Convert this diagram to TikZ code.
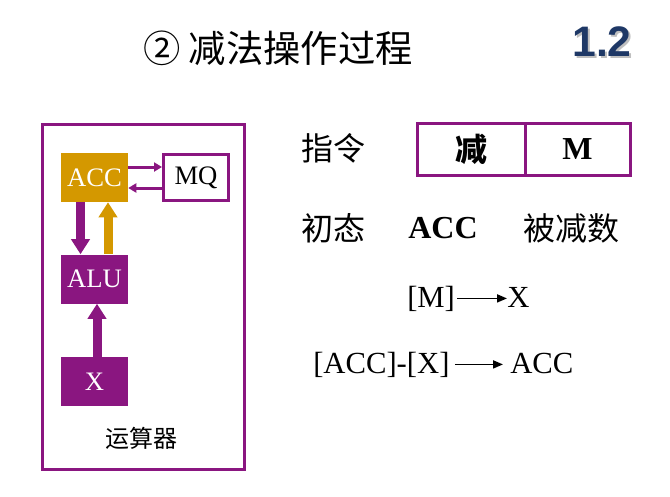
\documentclass[tikz,border=0pt]{standalone}
\usepackage{fontspec}
\setmainfont{Liberation Serif}
\newfontfamily\cjk{Noto Sans CJK SC}
\newfontfamily\numfont{Liberation Sans}
\usetikzlibrary{arrows.meta}
\newcommand{\pxu}{0.75pt}
\definecolor{regpurple}{RGB}{138,22,128}
\definecolor{accgold}{RGB}{212,152,0}
\definecolor{slideblue}{RGB}{30,56,102}
\tikzset{
  regbox/.style={rectangle, inner sep=0pt, minimum width=67*\pxu, minimum height=49*\pxu,
    font=\fontsize{20}{24}\selectfont, text=white},
  outlinebox/.style={rectangle, draw=regpurple, line width=3*\pxu, inner sep=0pt,
    minimum width=65*\pxu, minimum height=46*\pxu, font=\fontsize{20}{24}\selectfont},
  busarrow/.style={line width=9*\pxu, -{Triangle[width=18*\pxu,length=15*\pxu]}},
  linkarrow/.style={draw=regpurple, line width=3*\pxu, -{Triangle[width=9*\pxu,length=8*\pxu]}},
  txtarrow/.style={line width=1.8*\pxu, -{Triangle[width=8*\pxu,length=10*\pxu]}},
  cjklabel/.style={font=\cjk\fontsize{24}{28}\selectfont, inner sep=0pt},
  formula/.style={font=\fontsize{23}{27}\selectfont, inner sep=0pt},
  fieldbox/.style={rectangle, draw=regpurple, line width=3*\pxu, inner sep=0pt,
    minimum height=52*\pxu},
}
\begin{document}
\begin{tikzpicture}[x=0.75pt,y=-0.75pt]
  \useasboundingbox[fill=white] (0,0) rectangle (670,496);

  % slide heading and section number
  \node[font=\cjk\fontsize{28}{32}\selectfont, inner sep=0pt] (title) at (278,48) {② 减法操作过程};
  \node[font=\numfont\fontsize{32}{36}\selectfont\bfseries, text=black!25, inner sep=0pt] (numshadow) at (604,44) {1.2};
  \node[font=\numfont\fontsize{32}{36}\selectfont\bfseries, text=slideblue, inner sep=0pt] (num) at (602,42) {1.2};

  % arithmetic unit frame
  \node[draw=regpurple, line width=3*\pxu, rectangle, inner sep=0pt,
        minimum width=202*\pxu, minimum height=345*\pxu] (frame) at (143.5,297) {};
  \node[font=\cjk\fontsize{18}{22}\selectfont, inner sep=0pt] (unitlabel) at (141,438) {运算器};

  % registers
  \node[regbox, fill=accgold] (acc) at (94.5,177.5) {ACC};
  \node[outlinebox] (mq) at (196,177.5) {MQ};
  \node[regbox, fill=regpurple] (alu) at (94.5,279) {ALU};
  \node[regbox, fill=regpurple] (x) at (94.5,381.5) {X};

  % data paths
  \draw[linkarrow] ([yshift=10.5*\pxu]acc.east) -- ([yshift=10.5*\pxu]mq.west);
  \draw[linkarrow] ([yshift=-10.5*\pxu]mq.west) -- ([yshift=-10.5*\pxu]acc.east);
  \draw[busarrow, draw=regpurple] ([xshift=-14*\pxu]acc.south) -- ([xshift=-14*\pxu]alu.north);
  \draw[busarrow, draw=accgold] ([xshift=13.5*\pxu]alu.north) -- ([xshift=13.5*\pxu]acc.south);
  \draw[busarrow, draw=regpurple] ([xshift=2.5*\pxu]x.north) -- ([xshift=2.5*\pxu]alu.south);

  % instruction format
  \node[cjklabel] (instr) at (333,148) {指令};
  \node[fieldbox, minimum width=108*\pxu, font=\cjk\fontsize{24}{28}\selectfont\bfseries] (op) at (471,149) {减};
  \node[fieldbox, minimum width=105*\pxu, font=\fontsize{24}{28}\selectfont\bfseries] (addr) at (577.5,149) {M};

  % initial state
  \node[cjklabel] (init) at (333,228) {初态};
  \node[font=\fontsize{24}{28}\selectfont\bfseries, inner sep=0pt] (accname) at (443,228) {ACC};
  \node[cjklabel] (minuend) at (571,228) {被减数};

  % transfer steps
  \node[formula, anchor=base west] (mem) at (407,307) {[M]};
  \node[formula, anchor=base west] (xdst) at (507,307) {X};
  \draw[txtarrow] ([xshift=2*\pxu]mem.east) -- (mem.east -| xdst.west);

  \node[formula, anchor=base west] (diff) at (313,373) {[ACC]-[X]};
  \node[formula, anchor=base west] (accdst) at (510,373) {ACC};
  \draw[txtarrow] ([xshift=5*\pxu]diff.east) -- ([xshift=-7*\pxu]diff.east -| accdst.west);
\end{tikzpicture}
\end{document}
